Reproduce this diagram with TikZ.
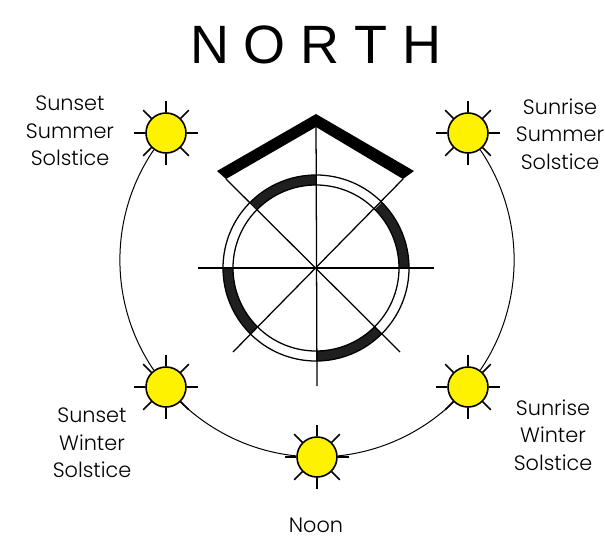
\documentclass[tikz,border=0pt]{standalone}
\usetikzlibrary{calc}
\usepackage{fontspec}
\setmainfont{Poppins Light}
\newfontfamily\titlefont{Liberation Sans}
\tikzset{
  sun/.style={circle,draw=black,fill=yellow,line width=1.2pt,minimum size=30pt,inner sep=0pt},
  ray/.style={line width=1.1pt},
  thinline/.style={line width=0.95pt},
  sunpath/.style={line width=0.75pt},
  lab/.style={align=center,font=\fontsize{15.6}{20.6}\selectfont,inner sep=0pt},
  hatch/.style={fill=black!88,draw=none},
}
\newcommand{\sunrays}[1]{\foreach \a in {0,45,...,315}{\draw[ray] (#1.\a) -- ++(\a:11.5);}}
\begin{document}
\begin{tikzpicture}[x=0.75pt,y=0.75pt]
\useasboundingbox (0,0) rectangle (605,540);
\coordinate (c) at (316,272);
% roof
\coordinate (ra) at (316,426);
\coordinate (rl) at (217,369);
\coordinate (rr) at (414,369);
\coordinate (il) at (226,361);
\coordinate (ir) at (403,361);
\coordinate (ia) at (316,413);
\fill[black] (ra) -- (rr) -- (ir) -- (ia) -- (il) -- (rl) -- cycle;
% hatched ring sectors
\foreach \s/\e in {90/135,0/45,270/315,180/225}{
  \fill[hatch] ($(c)+(\s:93)$) arc[start angle=\s,end angle=\e,radius=93]
     -- ($(c)+(\e:83)$) arc[start angle=\e,end angle=\s,radius=83] -- cycle;
}
% rings
\draw[thinline] (c) circle[radius=93];
\draw[thinline] (c) circle[radius=83];
% spokes
\coordinate (e) at (434,272);
\coordinate (w) at (198,272);
\coordinate (n) at (316,420);
\coordinate (s) at (317,154);
\coordinate (se) at (400,188);
\coordinate (sw) at (233,188);
\draw[thinline] (w) -- (e);
\draw[thinline] (n) -- (s);
\draw[thinline] (il) -- (se);
\draw[thinline] (ir) -- (sw);
% suns
\node[sun] (sss) at (166,407) {};
\node[sun] (srs) at (468,407) {};
\node[sun] (ssw) at (166,153) {};
\node[sun] (srw) at (468,153) {};
\node[sun] (noon) at (317,83) {};
\sunrays{sss}\sunrays{srs}\sunrays{ssw}\sunrays{srw}\sunrays{noon}
% paths
\draw[sunpath] (sss.234) to[out=235.7,in=124.3,looseness=0.933] (ssw.126);
\draw[sunpath] (ssw.-46) to[out=-44.1,in=174.2,looseness=0.876] (noon.177);
\draw[sunpath] (noon.3) to[out=5.8,in=224.1,looseness=0.876] (srw.226);
\draw[sunpath] (srw.54) to[out=55.7,in=-55.7,looseness=0.933] (srs.-54);
% text
\node[inner sep=0pt,font=\titlefont\fontsize{40.5}{41}\selectfont] (title) at (316,495) {N O R T H};
\node[lab] (l1) at (70,409) {Sunset\\Summer\\Solstice};
\node[lab] (l2) at (560,406) {Sunrise\\Summer\\Solstice};
\node[lab] (l3) at (92,97) {Sunset\\Winter\\Solstice};
\node[lab] (l4) at (553,105) {Sunrise\\Winter\\Solstice};
\node[lab] (l5) at (316,15) {Noon};
\end{tikzpicture}
\end{document}
